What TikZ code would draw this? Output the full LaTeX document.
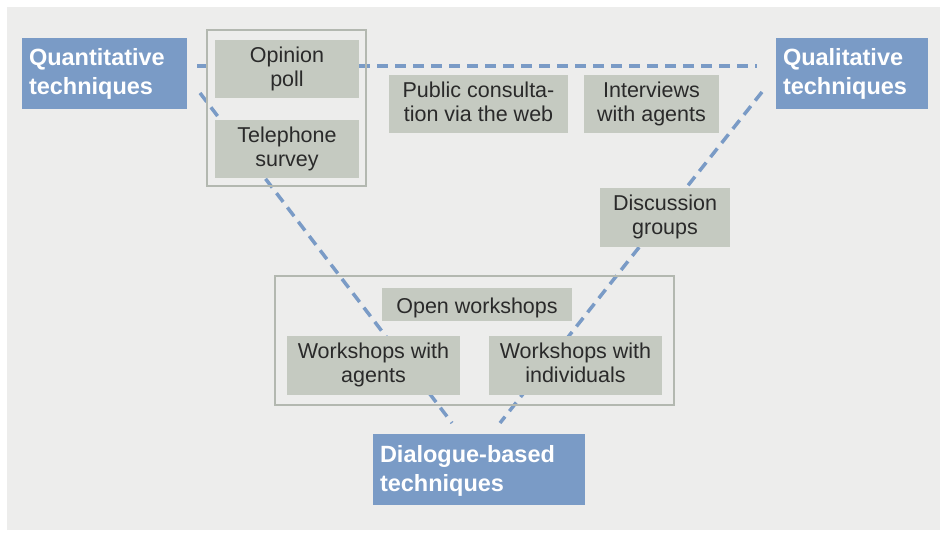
\documentclass[tikz,border=0pt]{standalone}
\usepackage{fontspec}
\setmainfont{Liberation Sans}

\definecolor{bggray}{HTML}{EDEDEC}
\definecolor{techblue}{HTML}{7A9BC6}
\definecolor{boxgray}{HTML}{C5CAC1}
\definecolor{framegray}{HTML}{B3B8B0}
\definecolor{textdark}{HTML}{2A2A2A}

\tikzset{
    techbox/.style={fill=techblue, text=white, align=left, inner sep=0pt,
        font=\bfseries\fontsize{23.5}{29}\selectfont,
        execute at begin node={\rule{0pt}{22pt}},
        execute at end node={\rule[-8pt]{0pt}{8pt}}},
    itembox/.style={fill=boxgray, text=textdark, align=center, inner sep=0pt,
        font=\fontsize{21.5}{24}\selectfont,
        execute at begin node={\rule{0pt}{23pt}},
        execute at end node={\rule[-5pt]{0pt}{5pt}}},
    groupframe/.style={draw=framegray, line width=2pt},
    dashline/.style={draw=techblue, line width=3.5pt, dash pattern=on 11pt off 7pt}
}

\begin{document}
\begin{tikzpicture}[x=1pt, y=-1pt]
    \useasboundingbox (0,0) rectangle (948,537);
    \fill[bggray] (7,7) rectangle (940,530);

    % ends of the dashed lines
    \coordinate (quantA) at (197,66);
    \coordinate (qualA) at (757,66);
    \coordinate (quantB) at (200,93);
    \coordinate (qualB) at (762,92);
    \coordinate (dialA) at (452,423);
    \coordinate (dialB) at (500,423);

    \draw[dashline] (quantA) -- (qualA);
    \draw[dashline] (quantB) -- (dialA);
    \draw[dashline] (qualB) -- (dialB);

    % groups
    \draw[groupframe] (207,30) rectangle (366,186);
    \draw[groupframe] (275,276) rectangle (674,405);

    % techniques
    \node[techbox, minimum width=165pt, minimum height=71pt, text width=151pt]
        (quant) at (104.5,73.5) {Quantitative\\techniques};
    \node[techbox, minimum width=152pt, minimum height=71pt, text width=138pt]
        (qual) at (852,73.5) {Qualitative\\techniques};
    \node[techbox, minimum width=212pt, minimum height=71pt, text width=198pt]
        (dial) at (479,469.5) {Dialogue-based\\techniques};

    % methods
    \node[itembox, minimum width=144pt, minimum height=58pt] (poll) at (287,69) {Opinion\\poll};
    \node[itembox, minimum width=144pt, minimum height=58pt] (phone) at (287,149) {Telephone\\survey};
    \node[itembox, minimum width=179pt, minimum height=58pt] (web) at (478.5,104.5) {Public consulta-\\tion via the web};
    \node[itembox, minimum width=135pt, minimum height=58pt] (interv) at (651.5,104.5) {Interviews\\with agents};
    \node[itembox, minimum width=130pt, minimum height=59pt] (discuss) at (665,217.5) {Discussion\\groups};
    \node[itembox, minimum width=190pt, minimum height=33pt] (openws) at (477,304.5) {Open workshops};
    \node[itembox, minimum width=173pt, minimum height=59pt] (wsagents) at (373.5,365.5) {Workshops with\\agents};
    \node[itembox, minimum width=173pt, minimum height=59pt] (wsindiv) at (575.5,365.5) {Workshops with\\individuals};
\end{tikzpicture}
\end{document}
